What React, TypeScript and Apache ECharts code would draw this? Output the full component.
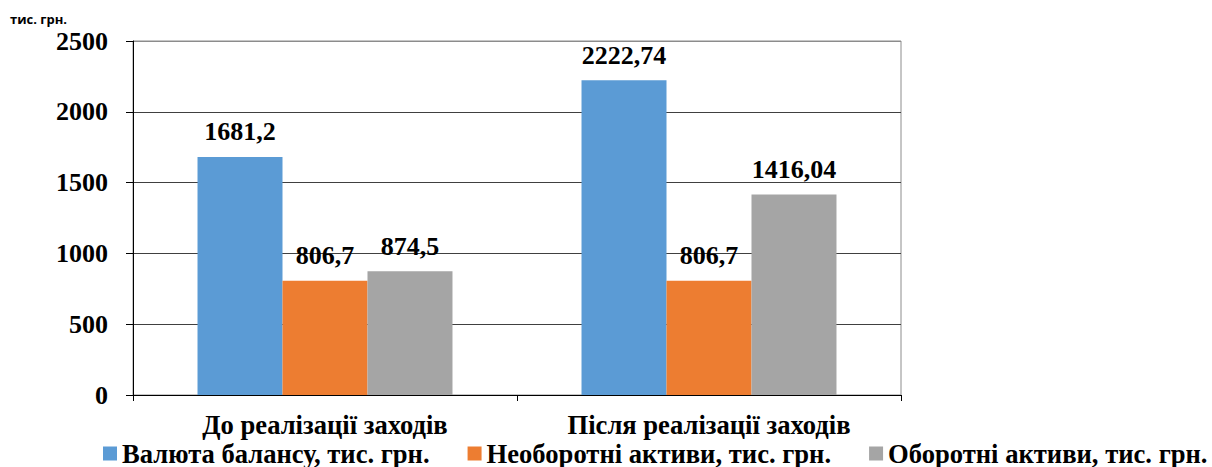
import React, { useEffect, useRef } from "react";
import * as echarts from "echarts";

const categories = ["До реалізації заходів", "Після реалізації заходів"];
const seriesNames = [
  "Валюта балансу, тис. грн.",
  "Необоротні активи, тис. грн.",
  "Оборотні активи, тис. грн.",
];
const balanceValues = [1681.2, 2222.74];
const fixedAssetValues = [806.7, 806.7];
const currentAssetValues = [874.5, 1416.04];
const seriesColors = ["#5B9BD5", "#ED7D31", "#A5A5A5"];
const unitLabel = "тис. грн.";

const serif = "Liberation Serif";
const valueSize = 26;
const captionSize = 26.6;

export default function App() {
  const ref = useRef<HTMLDivElement>(null);

  useEffect(() => {
    if (!ref.current) return;
    const chart = echarts.init(ref.current, null, { renderer: "svg" });
    const values = [balanceValues, fixedAssetValues, currentAssetValues];

    chart.setOption({
      animation: false,
      backgroundColor: "#ffffff",
      grid: {
        left: 133,
        right: 311,
        top: 41,
        bottom: 72,
        show: true,
        borderColor: "#8c8c8c",
        borderWidth: 1,
      },
      graphic: [
        {
          type: "text",
          left: 10,
          top: 12,
          style: {
            text: unitLabel,
            font: "bold 13px 'Open Sans', sans-serif",
            fill: "#000",
          },
        },
      ],
      legend: {
        left: 103,
        top: 440,
        padding: 0,
        itemWidth: 14,
        itemHeight: 14,
        itemGap: 38,
        icon: "rect",
        data: seriesNames,
        textStyle: {
          fontFamily: serif,
          fontWeight: "bold",
          fontSize: captionSize,
          color: "#000",
        },
      },
      xAxis: {
        type: "category",
        data: categories,
        axisLine: { lineStyle: { color: "#000", width: 1 } },
        axisTick: { show: true, length: 6, lineStyle: { color: "#000" } },
        axisLabel: {
          margin: 16,
          fontFamily: serif,
          fontWeight: "bold",
          fontSize: captionSize,
          color: "#000",
        },
      },
      yAxis: {
        type: "value",
        min: 0,
        max: 2500,
        interval: 500,
        axisLine: { show: true, lineStyle: { color: "#000", width: 1 } },
        axisTick: { show: true, length: 7, lineStyle: { color: "#000" } },
        axisLabel: {
          margin: 25,
          fontFamily: serif,
          fontWeight: "bold",
          fontSize: valueSize,
          color: "#000",
          formatter: (v: number) => String(v),
        },
        splitLine: {
          show: true,
          lineStyle: {
            color: ["#404040", "#404040", "#404040", "#404040", "#404040", "#8c8c8c"],
            width: 1,
          },
        },
      },
      series: seriesNames.map((name, i) => ({
        name,
        type: "bar",
        data: values[i],
        barGap: "0%",
        barCategoryGap: "33.6%",
        itemStyle: { color: seriesColors[i] },
        label: {
          show: true,
          position: "top",
          distance: 12,
          fontFamily: serif,
          fontWeight: "bold",
          fontSize: valueSize,
          color: "#000",
          formatter: (p: any) => String(p.value).replace(".", ","),
        },
      })),
    });

    return () => chart.dispose();
  }, []);

  return (
    <div
      ref={ref}
      style={{ position: "fixed", left: 0, top: 0, width: 1212, height: 467 }}
    />
  );
}
